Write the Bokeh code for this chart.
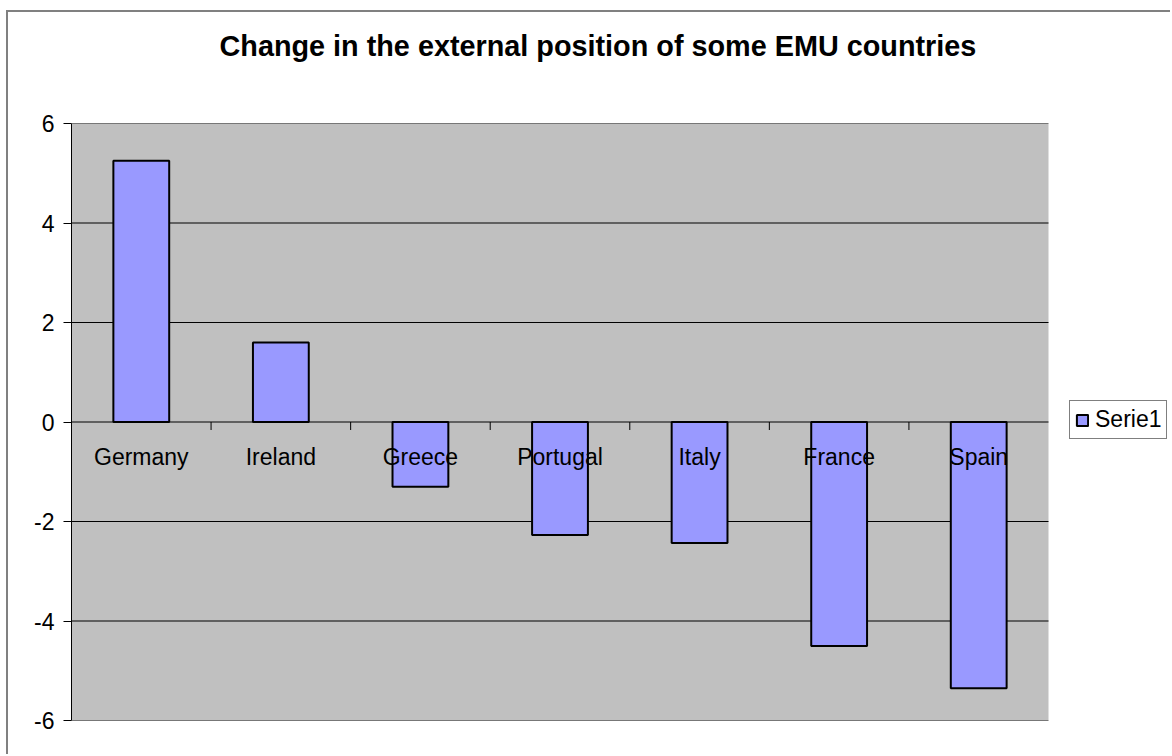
import math
from bokeh.plotting import figure
from bokeh.models import (Range1d, FixedTicker, Legend, Title,
                          LegendItem, ColumnDataSource)
from bokeh.core.properties import value
from bokeh.embed import file_html
from bokeh.resources import INLINE

# ---- data ----
countries = ["Germany", "Ireland", "Greece", "Portugal", "Italy", "France", "Spain"]
changes = [5.25, 1.6, -1.3, -2.27, -2.43, -4.5, -5.35]
y_ticks = [-6, -4, -2, 0, 2, 4, 6]
series_name = "Serie1"
title_text = "Change in the external position of some EMU countries"

FONT = "Liberation Sans"
n = len(countries)
xpos = [i + 0.5 for i in range(n)]          # category centres
bounds = list(range(1, n))                  # category boundaries

# frame spans the plot area plus the legend column on the right
PLOT_AREA_PX = 977
FRAME_PX = 1101
x_end = n * FRAME_PX / PLOT_AREA_PX

src = ColumnDataSource(dict(x=xpos, country=countries, change=changes,
                            base=[0] * n))

p = figure(width=1164, height=744, title=None,
           x_range=Range1d(0, x_end), y_range=Range1d(y_ticks[0], y_ticks[-1]),
           output_backend="svg", toolbar_location=None, x_axis_location=None,
           min_border_left=63, min_border_right=0,
           min_border_top=111, min_border_bottom=36)
p.styles = {"margin-left": "6px", "margin-top": "10px",
            "border-left": "2px solid #808080", "border-top": "2px solid #808080"}

# spacer between frame and title, then the title itself
p.add_layout(Title(text=" ", text_font_size="1px", standoff=59), "above")
p.add_layout(Title(text=title_text, align="left", offset=148, standoff=0,
                   text_font=FONT, text_font_size="28.8px", text_font_style="bold",
                   text_color="black"), "above")

p.background_fill_color = "white"
p.border_fill_color = "white"
p.outline_line_color = None
p.xgrid.visible = False
p.ygrid.visible = False

# grey plot area
p.quad(left=[0], right=[n], bottom=[y_ticks[0]], top=[y_ticks[-1]],
       fill_color="#C0C0C0", line_color=None)

# horizontal gridlines across the plot area
p.segment(x0=[0] * len(y_ticks), x1=[n] * len(y_ticks), y0=y_ticks, y1=y_ticks,
          line_color="black", line_width=1)

ax = p.yaxis[0]
ax.ticker = FixedTicker(ticks=y_ticks)
ax.major_label_overrides = {t: str(t) for t in y_ticks}
ax.axis_line_color = "black"
ax.major_tick_line_color = "black"
ax.major_tick_out = 8
ax.major_tick_in = 0
ax.minor_tick_out = 0
ax.minor_tick_in = 0
ax.major_label_standoff = 9
ax.major_label_text_font = FONT
ax.major_label_text_font_size = "23px"
ax.major_label_text_color = "black"

bars = p.vbar(x="x", top="change", bottom="base", width=0.4, source=src,
              fill_color="#9999FF", line_color="black", line_width=2)

# category boundary ticks on the zero line
p.ray(x=bounds, y=[0] * len(bounds), length=8, length_units="screen",
      angle=-math.pi / 2, line_color="black", line_width=1)

# category labels just below the zero line
p.text(x="x", y="base", text="country", source=src, y_offset=35,
       text_align="center", text_baseline="middle",
       text_font=value(FONT), text_font_size="23px", text_color="black")

legend = Legend(items=[LegendItem(label=series_name, renderers=[bars])],
                location=(998, 281), padding=5, margin=0, spacing=0,
                glyph_width=14, glyph_height=14, label_standoff=6,
                label_text_font=FONT, label_text_font_size="23px",
                label_text_color="black",
                border_line_color="black", border_line_width=1,
                background_fill_color="white", background_fill_alpha=1)
p.add_layout(legend, "center")

open("out.html", "w").write(file_html(p, INLINE))
